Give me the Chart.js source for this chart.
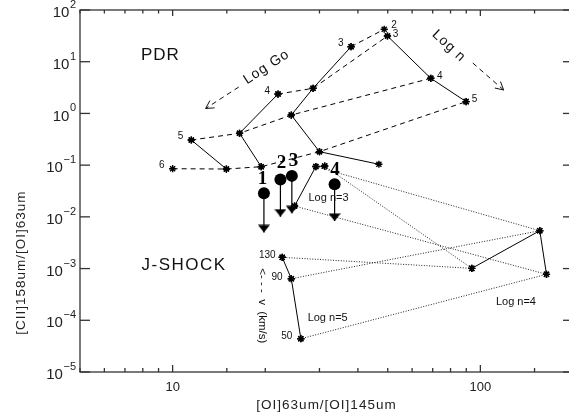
<!DOCTYPE html>
<html lang="en">
<head>
<meta charset="utf-8">
<title>[CII]/[OI] diagnostic diagram</title>
<script src="https://cdn.jsdelivr.net/npm/chart.js@4.4.1/dist/chart.umd.min.js"></script>
<style>
  html, body { margin: 0; padding: 0; overflow: hidden; background: #fff; }
  #wrap { width: 580px; height: 417px; }
</style>
</head>
<body>
<div id="wrap"><canvas id="ratioChart"></canvas></div>
<script>
// axis limits and tick labels
var xRange = [5, 200];
var yRange = [1e-5, 100];
var xTickLabels = { 10: '10', 100: '100' };
var yTickLabels = { 2: '2', 1: '1', 0: '0', '-1': '\u22121', '-2': '\u22122', '-3': '\u22123', '-4': '\u22124', '-5': '\u22125' };

// PDR grid, solid lines (constant density)
var pdrN1x = [38.0, 28.6, 24.3, 30.0, 46.8];
var pdrN1y = [19.5, 3.06, 0.93, 0.182, 0.104];
var pdrN2x = [22.0, 16.5, 19.4];
var pdrN2y = [2.37, 0.413, 0.0933];
var pdrN3x = [11.5, 14.95];
var pdrN3y = [0.306, 0.0841];
var pdrN4x = [49.9, 69.0, 89.9];
var pdrN4y = [31.4, 4.78, 1.69];

// PDR grid, dashed lines (constant Go)
var pdrG3x = [38.0, 48.7];
var pdrG3y = [19.5, 42.4];
var pdrG4x = [22.0, 28.6, 49.9];
var pdrG4y = [2.37, 3.06, 31.4];
var pdrG5x = [11.5, 16.5, 24.3, 69.0];
var pdrG5y = [0.306, 0.413, 0.93, 4.78];
var pdrG6x = [10.0, 14.95, 19.4, 30.0, 89.9];
var pdrG6y = [0.0853, 0.0841, 0.0933, 0.182, 1.69];

// J-shock grid, points ordered by velocity 130, 90, 50 km/s
var shockVel = [130, 90, 50];
var shockN3x = [31.2, 29.2, 24.9];
var shockN3y = [0.096, 0.094, 0.0162];
var shockN4x = [93.8, 156, 164];
var shockN4y = [0.00101, 0.0054, 0.000774];
var shockN5x = [22.7, 24.3, 26.1];
var shockN5y = [0.00165, 0.000637, 4.4e-5];

// observed upper limits
var obsLabels = ['1', '2', '3', '4'];
var obsX = [19.8, 22.4, 24.4, 33.6];
var obsY = [0.0285, 0.053, 0.062, 0.0426];
var obsLimitY = [0.0050, 0.0101, 0.0117, 0.0083];

// text on the plot, placed in data coordinates
var SANS = '"Liberation Sans", Arial, sans-serif';
var notes = [
  { t: 'PDR', x: 9.12, y: 13.5, size: 17, sp: 1 },
  { t: 'J-SHOCK', x: 10.9, y: 0.00117, size: 17, sp: 1.5 },
  { t: 'Log Go', x: 20.2, y: 7.9, size: 14, sp: 1, rot: -33 },
  { t: 'Log n', x: 79.0, y: 20.1, size: 14, sp: 1, rot: 43 },
  { t: '2', x: 52.4, y: 50.1, size: 10 },
  { t: '3', x: 53.0, y: 34.3, size: 10 },
  { t: '3', x: 35.2, y: 22.7, size: 10 },
  { t: '4', x: 20.3, y: 2.71, size: 10 },
  { t: '5', x: 10.6, y: 0.355, size: 10 },
  { t: '6', x: 9.22, y: 0.0975, size: 10 },
  { t: '4', x: 73.8, y: 5.29, size: 10 },
  { t: '5', x: 95.7, y: 1.87, size: 10 },
  { t: '130', x: 20.3, y: 0.00183, size: 10 },
  { t: '90', x: 21.85, y: 0.000678, size: 10 },
  { t: '50', x: 23.5, y: 5.02e-5, size: 10 },
  { t: 'Log n=3', x: 32.1, y: 0.0229, size: 11 },
  { t: 'Log n=4', x: 130.5, y: 0.000229, size: 11 },
  { t: 'Log n=5', x: 31.9, y: 0.000112, size: 11 },
  { t: '<- - -  v  (km/s)', x: 19.5, y: 0.000191, size: 11.5, rot: 90 }
];
var arrows = [
  { from: [16.4, 3.24], to: [12.8, 1.245] },
  { from: [94.5, 9.44], to: [119, 2.84] }
];

function pts(xs, ys) {
  return xs.map(function (x, i) { return { x: x, y: ys[i] }; });
}

function curve(xs, ys, dash) {
  return {
    data: pts(xs, ys), showLine: true, fill: false, tension: 0, order: 3,
    borderColor: '#000', borderWidth: 1, borderDash: dash,
    pointStyle: 'star', pointRadius: 3.6, pointBorderWidth: 1.4,
    pointBorderColor: '#000', pointBackgroundColor: '#000'
  };
}

// flat down-pointing arrow head, tip at the canvas centre
var head = document.createElement('canvas');
head.width = 12; head.height = 16;
(function () {
  var c = head.getContext('2d');
  c.fillStyle = '#000';
  c.beginPath(); c.moveTo(0, 0.5); c.lineTo(12, 0.5); c.lineTo(6, 8); c.closePath(); c.fill();
})();

var datasets = [];
var solid = [];
var dashed = [5, 4];
var dotted = [1, 1.6];
datasets.push(curve(pdrN1x, pdrN1y, solid));
datasets.push(curve(pdrN2x, pdrN2y, solid));
datasets.push(curve(pdrN3x, pdrN3y, solid));
datasets.push(curve(pdrN4x, pdrN4y, solid));
datasets.push(curve(pdrG3x, pdrG3y, dashed));
datasets.push(curve(pdrG4x, pdrG4y, dashed));
datasets.push(curve(pdrG5x, pdrG5y, dashed));
datasets.push(curve(pdrG6x, pdrG6y, dashed));
datasets.push(curve(shockN3x, shockN3y, solid));
datasets.push(curve(shockN4x, shockN4y, solid));
datasets.push(curve(shockN5x, shockN5y, solid));
shockVel.forEach(function (v, i) {
  var d = curve([shockN3x[i], shockN4x[i], shockN5x[i]], [shockN3y[i], shockN4y[i], shockN5y[i]], dotted);
  d.borderColor = '#222';
  datasets.push(d);
});
obsX.forEach(function (x, i) {
  datasets.push({
    data: [{ x: x, y: obsY[i] }, { x: x, y: obsLimitY[i] }], showLine: true, order: 2,
    borderColor: '#000', borderWidth: 1.2, pointRadius: 0
  });
});
datasets.push({
  data: pts(obsX, obsLimitY), showLine: false, order: 1,
  pointStyle: head, pointRadius: 6
});
datasets.push({
  data: pts(obsX, obsY), showLine: false, order: 0,
  pointStyle: 'circle', pointRadius: 6, pointBackgroundColor: '#000', pointBorderColor: '#000', pointBorderWidth: 0
});

function isDecade(v) {
  var l = Math.log10(v);
  return Math.abs(l - Math.round(l)) < 1e-6;
}

var framePlugin = {
  id: 'frame',
  beforeDraw: function (chart) {
    var ctx = chart.ctx;
    ctx.save();
    ctx.fillStyle = '#fff';
    ctx.fillRect(0, 0, chart.width, chart.height);
    ctx.restore();
  },
  afterDraw: function (chart) {
    var ctx = chart.ctx, a = chart.chartArea, sx = chart.scales.x, sy = chart.scales.y;
    function seg(x1, y1, x2, y2) { ctx.beginPath(); ctx.moveTo(x1, y1); ctx.lineTo(x2, y2); ctx.stroke(); }
    ctx.save();
    ctx.strokeStyle = '#333';
    ctx.lineWidth = 1.3;
    ctx.strokeRect(a.left, a.top, a.right - a.left, a.bottom - a.top);

    // inward ticks
    sx.ticks.forEach(function (t) {
      var px = sx.getPixelForValue(t.value), big = isDecade(t.value);
      seg(px, a.bottom, px, a.bottom - (big ? 7 : 4));
      seg(px, a.top, px, a.top + (big ? 6 : 3.5));
    });
    sy.ticks.forEach(function (t) {
      if (!isDecade(t.value)) return;
      var py = sy.getPixelForValue(t.value);
      seg(a.left, py, a.left + 10, py);
      seg(a.right, py, a.right - 10, py);
    });

    // tick labels
    ctx.fillStyle = '#222';
    ctx.textBaseline = 'middle';
    ctx.textAlign = 'center';
    ctx.font = '13px ' + SANS;
    sx.ticks.forEach(function (t) {
      var key = Math.round(t.value);
      if (isDecade(t.value) && xTickLabels[key]) {
        ctx.fillText(xTickLabels[key], sx.getPixelForValue(t.value), a.bottom + 15);
      }
    });
    sy.ticks.forEach(function (t) {
      if (!isDecade(t.value)) return;
      var e = Math.round(Math.log10(t.value)), lab = yTickLabels[e];
      if (lab === undefined) return;
      var py = sy.getPixelForValue(t.value), right = a.left - 4;
      ctx.textAlign = 'right';
      ctx.font = '11px ' + SANS;
      ctx.fillText(lab, right, py - 5);
      var w = ctx.measureText(lab).width;
      ctx.font = '15px ' + SANS;
      ctx.fillText('10', right - w - 0.5, py + 3);
    });

    // axis titles
    ctx.font = '13.5px ' + SANS;
    ctx.letterSpacing = '1px';
    ctx.textAlign = 'center';
    ctx.fillText('[OI]63um/[OI]145um', (a.left + a.right) / 2, a.bottom + 33);
    ctx.save();
    ctx.translate(21.5, sy.getPixelForValue(1.3e-3));
    ctx.rotate(-Math.PI / 2);
    ctx.fillText('[CII]158um/[OI]63um', 0, 0);
    ctx.restore();

    // notes
    ctx.fillStyle = '#111';
    notes.forEach(function (n) {
      ctx.save();
      ctx.translate(sx.getPixelForValue(n.x), sy.getPixelForValue(n.y));
      if (n.rot) ctx.rotate(n.rot * Math.PI / 180);
      ctx.font = n.size + 'px ' + SANS;
      ctx.letterSpacing = (n.sp || 0) + 'px';
      ctx.fillText(n.t, 0, 0);
      ctx.restore();
    });

    // observation numbers
    ctx.letterSpacing = '0px';
    ctx.fillStyle = '#000';
    ctx.font = 'bold 19px "Liberation Serif", "Times New Roman", serif';
    var lx = [19.6, 22.6, 24.7, 33.7];
    var ly = [0.0532, 0.1076, 0.1175, 0.0805];
    obsLabels.forEach(function (s, i) {
      ctx.fillText(s, sx.getPixelForValue(lx[i]), sy.getPixelForValue(ly[i]));
    });

    // direction arrows
    ctx.strokeStyle = '#111';
    ctx.lineWidth = 1;
    arrows.forEach(function (ar) {
      var x1 = sx.getPixelForValue(ar.from[0]), y1 = sy.getPixelForValue(ar.from[1]);
      var x2 = sx.getPixelForValue(ar.to[0]), y2 = sy.getPixelForValue(ar.to[1]);
      ctx.setLineDash([5, 4]);
      seg(x1, y1, x2, y2);
      ctx.setLineDash([]);
      var ang = Math.atan2(y1 - y2, x1 - x2);
      [-0.5, 0.5].forEach(function (d) {
        seg(x2, y2, x2 + 9 * Math.cos(ang + d), y2 + 9 * Math.sin(ang + d));
      });
    });
    ctx.restore();
  }
};

new Chart(document.getElementById('ratioChart'), {
  type: 'scatter',
  data: { datasets: datasets },
  options: {
    responsive: true,
    maintainAspectRatio: false,
    animation: false,
    events: [],
    layout: { padding: { left: 80, right: 4, top: 10, bottom: 45 } },
    plugins: { legend: { display: false }, tooltip: { enabled: false } },
    scales: {
      x: { type: 'logarithmic', min: xRange[0], max: xRange[1], display: false },
      y: { type: 'logarithmic', min: yRange[0], max: yRange[1], display: false }
    }
  },
  plugins: [framePlugin]
});
</script>
</body>
</html>
